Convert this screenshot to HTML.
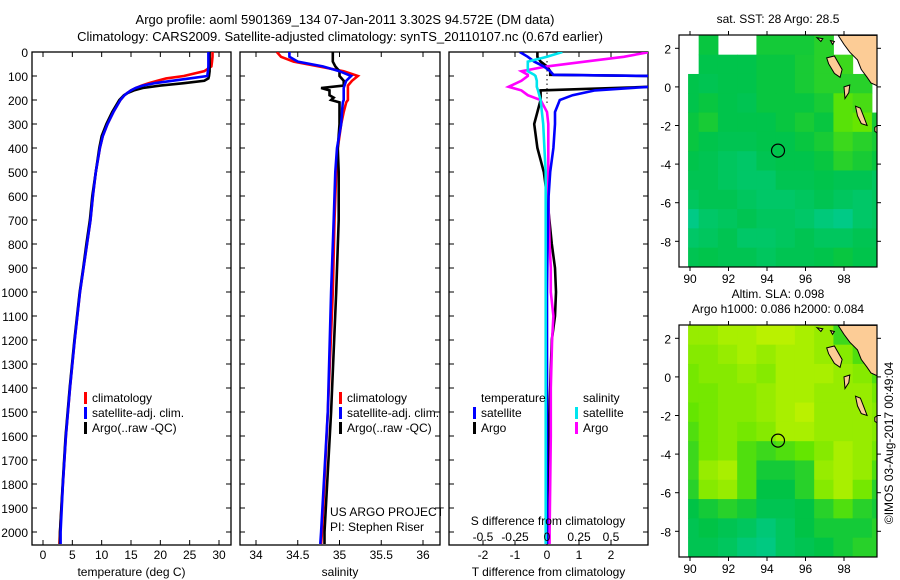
<!DOCTYPE html>
<html><head><meta charset="utf-8"><style>
html,body{margin:0;padding:0;background:#fff;}
svg{display:block;font-family:"Liberation Sans",sans-serif;}
</style></head><body>
<svg id="c" width="900" height="580" viewBox="0 0 900 580" xmlns="http://www.w3.org/2000/svg">
<text x="345" y="24" text-anchor="middle" font-size="13">Argo profile: aoml 5901369_134 07-Jan-2011 3.302S 94.572E (DM data)</text>
<text x="340" y="41" text-anchor="middle" font-size="13">Climatology: CARS2009. Satellite-adjusted climatology: synTS_20110107.nc (0.67d earlier)</text>
<g id="g"></g>
</svg>
<script>
// ---- profile data ----
const depthsT = [0,20,40,60,80,100,110,120,130,140,150,160,170,180,200,250,300,350,400,500,600,700,800,900,1000,1200,1400,1600,1800,2000,2050];
const tempClim = [28.9,28.9,28.8,28.7,27.5,24,21,19.5,18,16.8,15.8,15,14.4,13.9,13.2,12,11,10.2,9.7,9,8.5,8.1,7.5,6.9,6.3,5.4,4.6,3.9,3.4,2.9,2.8];
const tempSat  = [28.2,28.2,28.2,28.2,28.1,28,25,22,19,17,15.8,15,14.4,13.9,13.2,12,11,10.2,9.7,9,8.5,8.1,7.5,6.9,6.3,5.4,4.6,3.9,3.4,3.0,3.0];
const tempArgo = [28.4,28.4,28.4,28.4,28.4,28.3,28.2,27.5,24,20,17,15.5,14.5,13.8,13.0,11.8,10.8,10.0,9.6,9.0,8.4,8.0,7.4,6.85,6.25,5.35,4.55,3.85,3.35,2.9,2.9];
const depthsS = [0,20,40,60,80,100,120,140,150,160,180,190,200,210,250,300,400,500,700,1000,1500,2000,2050];
const salClim = [34.25,34.3,34.45,34.75,35.05,35.22,35.15,35.1,35.1,35.1,35.1,35.1,35.1,35.08,35.05,35.02,34.98,34.96,34.94,34.92,34.86,34.79,34.78];
const salSat  = [34.4,34.4,34.5,34.8,35.0,35.14,35.08,35.06,35.05,35.05,35.05,35.05,35.05,35.04,35.03,35.02,34.97,34.95,34.93,34.9,34.86,34.78,34.77];
const salArgo = [34.92,34.92,34.92,34.95,35.0,35.0,35.05,35.05,34.78,34.88,34.88,34.93,34.9,35.0,35.0,35.0,34.98,34.99,34.99,34.96,34.9,34.82,34.82];
const depthsD = [0,20,40,60,80,95,100,120,145,160,180,200,250,300,400,500,600,800,900,1000,1100,1200,1400,1600,2000,2050];
const dTSat  = [-0.85,-0.6,-0.4,-0.1,0.1,0.2,3.2,3.2,3.2,1.5,0.8,0.4,0.25,0.25,0.2,0.1,0.05,0.02,0.01,0,0,0,0,0,0,0];
const dTArgo = [-0.3,-0.3,-0.2,0,0.1,0.1,3.2,3.2,3.2,-0.2,-0.2,-0.2,-0.3,-0.4,-0.3,-0.1,0,0.15,0.25,0.28,0.25,0.15,0.1,0.05,0,0];
const dSSat  = [0.12,0.0,-0.15,-0.15,-0.15,-0.1,-0.09,-0.08,-0.08,-0.07,-0.06,-0.05,-0.04,-0.03,-0.02,-0.01,-0.01,-0.01,-0.01,-0.01,-0.01,-0.01,-0.01,-0.01,-0.01,-0.01];
const dSArgo = [0.8,0.6,0.3,0,-0.2,-0.15,-0.15,-0.2,-0.3,-0.2,-0.15,-0.05,0,0.01,0.01,0.01,0.01,0.02,0.03,0.03,0.05,0.04,0.03,0.03,0.02,0.02];
const depthTicks = [0,100,200,300,400,500,600,700,800,900,1000,1100,1200,1300,1400,1500,1600,1700,1800,1900,2000];
const tempTicks = [0,5,10,15,20,25,30];
const salTicks = [34,34.5,35,35.5,36];
const dTTicks = [-2,-1,0,1,2];
const dSTicks = [-0.5,-0.25,0,0.25,0.5];
// ---- map data (rows from lat 2.67 downward, 1 deg; cols from lon 89.45, 1 deg) ----
const sstGrid = [
[null,0.42,null,null,0.45,0.45,0.45,0.5,null,null,null],
[null,0.38,0.38,0.38,0.42,0.42,0.46,0.5,0.55,null,null],
[0.38,0.35,0.38,0.38,0.42,0.42,0.46,0.5,0.5,0.5,null],
[0.38,0.42,0.38,0.35,0.42,0.42,0.42,0.46,0.62,0.58,null],
[0.42,0.46,0.38,0.38,0.38,0.42,0.46,0.42,0.62,0.66,0.46],
[0.42,0.38,0.35,0.35,0.38,0.38,0.42,0.46,0.55,0.5,0.46],
[0.38,0.35,0.3,0.26,0.35,0.38,0.38,0.42,0.5,0.46,0.42],
[0.35,0.35,0.3,0.26,0.26,0.35,0.35,0.38,0.35,0.35,0.3],
[0.3,0.35,0.35,0.3,0.26,0.26,0.3,0.35,0.3,0.26,0.3],
[0.13,0.26,0.3,0.35,0.3,0.3,0.26,0.18,0.13,0.26,0.3],
[0.26,0.3,0.35,0.26,0.26,0.3,0.35,0.3,0.3,0.35,0.35],
[0.35,0.38,0.35,0.35,0.3,0.35,0.35,0.38,0.42,0.38,0.38]];
const slaGrid = [
[0.8,0.8,0.85,0.85,0.9,0.9,0.85,0.8,0.55,0.5,null],
[0.75,0.75,0.8,0.85,0.8,0.85,0.85,0.8,0.75,0.6,0.5],
[0.7,0.75,0.75,0.8,0.75,0.85,0.85,0.85,0.8,0.75,0.6],
[0.7,0.7,0.75,0.75,0.8,0.85,0.85,0.8,0.8,0.8,0.7],
[0.65,0.7,0.75,0.75,0.8,0.85,0.9,0.8,0.8,0.8,0.75],
[0.6,0.7,0.75,0.7,0.75,0.85,0.85,0.8,0.8,0.8,0.75],
[0.55,0.7,0.75,0.6,0.55,0.6,0.65,0.75,0.85,0.8,0.7],
[0.55,0.8,0.85,0.6,0.45,0.45,0.5,0.8,0.85,0.8,0.6],
[0.5,0.75,0.8,0.6,0.4,0.4,0.5,0.75,0.85,0.7,0.5],
[0.4,0.45,0.5,0.45,0.35,0.35,0.4,0.5,0.6,0.5,0.45],
[0.35,0.4,0.35,0.3,0.2,0.3,0.4,0.45,0.45,0.45,0.5],
[0.35,0.35,0.3,0.2,0.15,0.3,0.35,0.4,0.45,0.5,0.5]];
const lonTicks = [90,92,94,96,98];
const latTicks = [2,0,-2,-4,-6,-8];
const argoLon = 94.572, argoLat = -3.302;
const coast = [[97.7,2.67],[98.0,2.2],[98.3,1.8],[98.7,1.4],[98.9,0.9],[99.2,0.5],[99.4,0.2],[99.74,0.05],[99.74,2.67]];
const islands = [
[[97.1,1.5],[97.5,1.6],[97.9,0.9],[97.8,0.5],[97.5,0.7],[97.2,1.2]],
[[98.6,-1.0],[98.85,-1.1],[99.05,-1.6],[99.2,-2.0],[98.9,-1.9],[98.7,-1.5]],
[[98.0,0.0],[98.3,0.1],[98.25,-0.3],[98.05,-0.6]],
[[96.6,2.55],[96.9,2.5],[96.8,2.35]],
[[97.3,2.4],[97.5,2.35],[97.4,2.2]],
[[99.6,-2.1],[99.74,-2.0],[99.74,-2.4],[99.6,-2.3]]];

const NS='http://www.w3.org/2000/svg';
const G=document.getElementById('g');
function mk(tag,attrs,parent){const e=document.createElementNS(NS,tag);for(const k in attrs)e.setAttribute(k,attrs[k]);(parent||G).appendChild(e);return e;}
function txt(x,y,s,size,anchor,parent){const t=mk('text',{x:x,y:y,'font-size':size||12,'text-anchor':anchor||'start'},parent);t.textContent=s;return t;}

const top0=52, bot0=545;
const yD=d=>top0+d*0.24;
function linear(d0,d1,r0,r1){return v=>r0+(v-d0)*(r1-r0)/(d1-d0);}

function panel(name,x0,x1,xs,ticks,tickFmt,title){
  const p=mk('g',{});
  
  
  const fr=mk('rect',{x:x0,y:top0,width:x1-x0,height:bot0-top0,fill:'none',stroke:'#000','stroke-width':1.3},p);
  
  
  depthTicks.forEach(d=>{const y=yD(d);mk('line',{x1:x0,y1:y,x2:x0+5,y2:y,stroke:'#000'},p);mk('line',{x1:x1,y1:y,x2:x1-5,y2:y,stroke:'#000'},p);});
  ticks.forEach(v=>{const x=xs(v);mk('line',{x1:x,y1:bot0,x2:x,y2:bot0-5,stroke:'#000'},p);mk('line',{x1:x,y1:top0,x2:x,y2:top0+5,stroke:'#000'},p);
    const t=txt(x,559,tickFmt(v),12,'middle',p);
    
    });
  const tt=txt((x0+x1)/2,576,title,12,'middle',p);
  
  
  return p;
}
function series(p,name,xs,depths,vals,color,clipId){
  const pts=depths.map((d,i)=>xs(vals[i]).toFixed(1)+','+yD(d).toFixed(1)).join(' ');
  const l=mk('polyline',{points:pts,fill:'none',stroke:color,'stroke-width':2.6,'clip-path':'url(#'+clipId+')'},p);
  
  
}
function clip(id,x0,x1){const defs=mk('defs',{});const c=mk('clipPath',{id:id},defs);mk('rect',{x:x0,y:top0,width:x1-x0,height:bot0-top0},c);}
function legend(p,x,y,color,label,prefix){
  const b=mk('rect',{x:x,y:y-10,width:3,height:12,fill:color},p);
  
  
  const t=txt(x+8,y,label,12,'start',p);
  
  
}

depthTicks.forEach(d=>{const t=txt(28,yD(d)+5,String(d),12,'end');
  
  });

const xT=linear(0,30,43,219);
const p1=panel('temperature-panel',32,231,xT,tempTicks,v=>String(v),'temperature (deg C)');
clip('c1',32,231);
series(p1,'temp-climatology-line',xT,depthsT,tempClim,'#ff0000','c1');
series(p1,'temp-argo-line',xT,depthsT,tempArgo,'#000000','c1');
series(p1,'temp-satellite-line',xT,depthsT,tempSat,'#0000ff','c1');
legend(p1,84,402,'#ff0000','climatology','legend-climatology');
legend(p1,84,417,'#0000ff','satellite-adj. clim.','legend-satellite');
legend(p1,84,432,'#000000','Argo(..raw -QC)','legend-argo');

const xS=linear(34,36,256,423);
const p2=panel('salinity-panel',240,440,xS,salTicks,v=>String(v),'salinity');
clip('c2',240,440);
series(p2,'sal-climatology-line',xS,depthsS,salClim,'#ff0000','c2');
series(p2,'sal-argo-line',xS,depthsS,salArgo,'#000000','c2');
series(p2,'sal-satellite-line',xS,depthsS,salSat,'#0000ff','c2');
legend(p2,339,402,'#ff0000','climatology','legend2-climatology');
legend(p2,339,417,'#0000ff','satellite-adj. clim.','legend2-satellite');
legend(p2,339,432,'#000000','Argo(..raw -QC)','legend2-argo');
const us=txt(330,516,'US ARGO PROJECT',12,'start',p2);
const pi=txt(330,531,'PI: Stephen Riser',12,'start',p2);

const xDT=linear(0,1,547,579);
const xDS=linear(0,0.5,547,611);
const p3=panel('difference-panel',449,648,xDT,dTTicks,v=>String(v),'T difference from climatology');
clip('c3',449,648);
mk('line',{x1:547,y1:top0,x2:547,y2:yD(220),stroke:'#000','stroke-dasharray':'1.5,3'},p3);
series(p3,'dT-argo-line',xDT,depthsD,dTArgo,'#000000','c3');
series(p3,'dS-argo-line',xDS,depthsD,dSArgo,'#ff00ff','c3');
series(p3,'dT-satellite-line',xDT,depthsD,dTSat,'#0000ff','c3');
series(p3,'dS-satellite-line',xDS,depthsD,dSSat,'#00e5ee','c3');
dSTicks.forEach(v=>{const t=txt(xDS(v),541,String(v),12,'middle',p3);
  
  });
const sd=txt(548,525,'S difference from climatology',12,'middle',p3);
const lt=txt(481,402,'temperature',12,'start',p3);
const ls=txt(583,402,'salinity',12,'start',p3);
legend(p3,473,417,'#0000ff','satellite','legend3-t-satellite');
legend(p3,473,432,'#000000','Argo','legend3-t-argo');
legend(p3,575,417,'#00e5ee','satellite','legend3-s-satellite');
legend(p3,575,432,'#ff00ff','Argo','legend3-s-argo');

const stops=[[0,[0,205,165]],[0.4,[0,195,70]],[0.65,[100,230,0]],[1,[220,245,0]]];
function cmap(v){for(let i=1;i<stops.length;i++){if(v<=stops[i][0]){const a=stops[i-1],b=stops[i];const f=(v-a[0])/(b[0]-a[0]);return 'rgb('+a[1].map((c,k)=>Math.round(c+f*(b[1][k]-c))).join(',')+')';}}return 'rgb(220,245,0)';}
function drawMap(name,top,grid,titles){
  const x0=679,x1=877,bot=top+232;
  const lonX=linear(90,98,690,844);
  const latY=linear(2,-8,top+13.3,top+206.3);
  const m=mk('g',{});
  
  
  const cid=name+'-clip';
  const defs=mk('defs',{},m);const cp=mk('clipPath',{id:cid},defs);mk('rect',{x:lonX(89.9),y:top,width:x1-lonX(89.9),height:232},cp);
  const cells=mk('g',{'clip-path':'url(#'+cid+')'},m);
  grid.forEach((row,r)=>row.forEach((v,c)=>{if(v===null)return;
    const xa=lonX(89.45+c),xb=lonX(90.45+c),ya=latY(2.67-r),yb=latY(1.67-r);
    const cell=mk('rect',{x:xa,y:ya,width:xb-xa+0.5,height:yb-ya+0.5,fill:cmap(v)},cells);
    
    }));
  const land=[coast].concat(islands);
  land.forEach(poly=>{const pg=mk('polygon',{points:poly.map(q=>lonX(q[0]).toFixed(1)+','+latY(q[1]).toFixed(1)).join(' '),fill:'#fccc96',stroke:'#000','stroke-width':1},cells);
    
    });
  const fr=mk('rect',{x:x0,y:top,width:x1-x0,height:bot-top,fill:'none',stroke:'#000','stroke-width':1.2},m);
  
  
  lonTicks.forEach(l=>{const x=lonX(l);mk('line',{x1:x,y1:bot,x2:x,y2:bot+4,stroke:'#000'},m);mk('line',{x1:x,y1:top,x2:x,y2:top-4,stroke:'#000'},m);
    const t=txt(x,bot+16,String(l),12,'middle',m);});
  latTicks.forEach(l=>{const y=latY(l);mk('line',{x1:x0,y1:y,x2:x0-4,y2:y,stroke:'#000'},m);mk('line',{x1:x1,y1:y,x2:x1+4,y2:y,stroke:'#000'},m);
    const t=txt(x0-8,y+5,String(l),12,'end',m);});
  const ci=mk('circle',{cx:lonX(argoLon),cy:latY(argoLat),r:6.5,fill:'none',stroke:'#000','stroke-width':1.2},m);
  
  
  titles.forEach((s,i)=>{const t=txt(778,titles.length===1?top-12:top-27+i*15,s,12,'middle',m);
    });
}
drawMap('sst-map',35,sstGrid,['sat. SST: 28 Argo: 28.5']);
drawMap('sla-map',325,slaGrid,['Altim. SLA: 0.098','Argo h1000: 0.086 h2000: 0.084']);
const cr=txt(0,0,'©IMOS 03-Aug-2017 00:49:04',12,'middle');
cr.setAttribute('transform','translate(893,443) rotate(-90)');


</script>
</body></html>
